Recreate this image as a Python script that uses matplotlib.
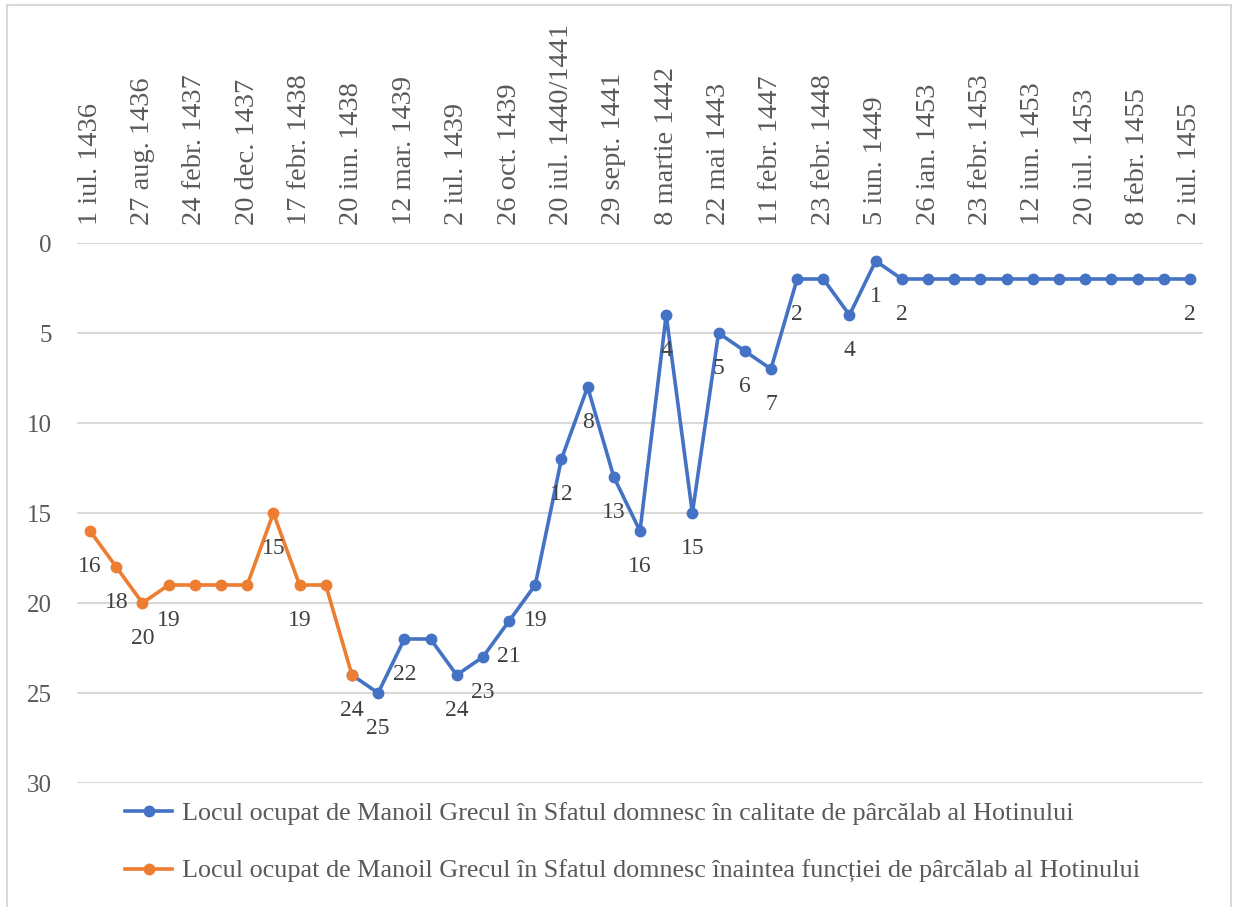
import numpy as np
import matplotlib
matplotlib.use("Agg")
import matplotlib.pyplot as plt
from matplotlib.lines import Line2D
from matplotlib.patches import Rectangle

# ---- data ----
tick_labels = ["1 iul. 1436", "27 aug. 1436", "24 febr. 1437", "20 dec. 1437",
               "17 febr. 1438", "20 iun. 1438", "12 mar. 1439", "2 iul. 1439",
               "26 oct. 1439", "20 iul. 1440/1441", "29 sept. 1441", "8 martie 1442",
               "22 mai 1443", "11 febr. 1447", "23 febr. 1448", "5 iun. 1449",
               "26 ian. 1453", "23 febr. 1453", "12 iun. 1453", "20 iul. 1453",
               "8 febr. 1455", "2 iul. 1455"]
n_points = 43

orange_vals = [16, 18, 20, 19, 19, 19, 19, 15, 19, 19, 24]            # indices 0..10
blue_vals = [24, 25, 22, 22, 24, 23, 21, 19, 12, 8, 13, 16, 4, 15, 5, 6, 7,
             2, 2, 4, 1, 2, 2, 2, 2, 2, 2, 2, 2, 2, 2, 2, 2]           # indices 10..42
orange_start = 0
blue_start = 10

orange_labeled = [0, 1, 2, 3, 7, 8, 10]
blue_labeled = [11, 12, 14, 15, 16, 17, 18, 19, 20, 21, 22, 23, 24, 25, 26,
                27, 29, 30, 31, 42]

blue_name = "Locul ocupat de Manoil Grecul în Sfatul domnesc în calitate de pârcălab al Hotinului"
orange_name = "Locul ocupat de Manoil Grecul în Sfatul domnesc înaintea funcției de pârcălab al Hotinului"

BLUE = "#4472C4"
ORANGE = "#ED7D31"
FONT = "Liberation Serif"

W, H = 1233, 907
fig = plt.figure(figsize=(W / 100, H / 100), dpi=100)
fig.patch.set_facecolor("white")

# outer border
fig.add_artist(Rectangle((7 / W, -0.05), (1231 - 7) / W, 1.05 - 5 / H,
                         transform=fig.transFigure, fill=False,
                         edgecolor="#D9D9D9", linewidth=1.5))

ax = fig.add_axes([77 / W, 1 - 783 / H, (1203 - 77) / W, (783 - 243) / H])

xo = np.arange(orange_start, orange_start + len(orange_vals))
xb = np.arange(blue_start, blue_start + len(blue_vals))

ax.plot(xb, blue_vals, color=BLUE, lw=2.6, marker="o", ms=7.5, zorder=3,
        solid_capstyle="round", label=blue_name)
ax.plot(xo, orange_vals, color=ORANGE, lw=2.6, marker="o", ms=7.5, zorder=4,
        solid_capstyle="round", label=orange_name)

for i in orange_labeled:
    v = orange_vals[i - orange_start]
    ax.annotate(str(v), (i, v), xytext=(0, -36), textcoords="offset pixels",
                ha="center", va="center", fontsize=17, family=FONT,
                color="#404040", zorder=5)
for i in blue_labeled:
    v = blue_vals[i - blue_start]
    ax.annotate(str(v), (i, v), xytext=(0, -36), textcoords="offset pixels",
                ha="center", va="center", fontsize=17, family=FONT,
                color="#404040", zorder=5)

ax.set_xlim(-0.5, n_points - 0.5)
ax.set_ylim(30, 0)
ax.set_yticks(np.arange(0, 31, 5))
ax.set_xticks(np.arange(0, n_points, 2))
ax.set_xticklabels(tick_labels, rotation=90, family=FONT, fontsize=20.5,
                   color="#595959")
ax.xaxis.tick_top()
ax.tick_params(axis="x", length=0, pad=13)
ax.tick_params(axis="y", length=0, pad=18, labelsize=18, labelcolor="#595959")
for lab in ax.get_yticklabels():
    lab.set_family(FONT)
ax.grid(axis="y", color="#D9D9D9", lw=1.5)
ax.set_axisbelow(True)
for s in ax.spines.values():
    s.set_visible(False)

handles = [Line2D([], [], color=BLUE, lw=2.6, marker="o", ms=7.5),
           Line2D([], [], color=ORANGE, lw=2.6, marker="o", ms=7.5)]
leg = fig.legend(handles, [blue_name, orange_name], loc="upper left",
                 bbox_to_anchor=(125 / W, 1 - 802 / H), frameon=False,
                 prop={"family": FONT, "size": 18.8}, handlelength=1.8,
                 handletextpad=0.4, labelspacing=1.33, borderpad=0,
                 borderaxespad=0)
for t in leg.get_texts():
    t.set_color("#595959")

fig.savefig("out.png", dpi=100)
